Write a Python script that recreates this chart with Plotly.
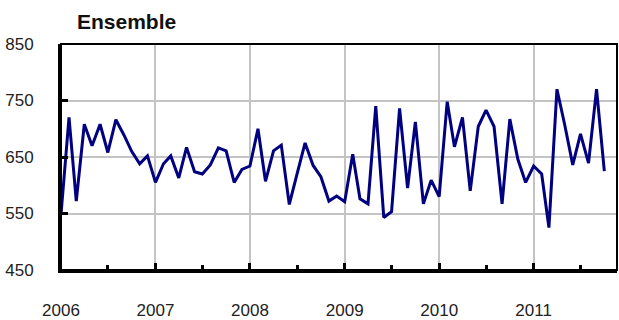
import pandas as pd
import plotly.graph_objects as go

# Monthly values, Jan 2006 - Oct 2011
values = [548, 720, 572, 708, 670, 708, 658, 716, 689, 660, 638, 652,
          605, 638, 652, 613, 667, 624, 620, 636, 666, 661, 605, 628,
          634, 700, 607, 661, 671, 566, 620, 675, 635, 615, 572, 581,
          571, 655, 576, 567, 740, 543, 553, 736, 595, 712, 567, 609,
          580, 748, 668, 720, 590, 704, 733, 704, 567, 717, 646, 605,
          634, 620, 525, 770, 707, 636, 691, 639, 770, 625]
start_month = "2006-01-01"
dates = pd.date_range(start_month, periods=len(values), freq="MS")

title_text = "Ensemble"
y_ticks = [450, 550, 650, 750, 850]
year_ticks = ["2006-01-01", "2007-01-01", "2008-01-01", "2009-01-01", "2010-01-01", "2011-01-01"]
year_labels = ["2006", "2007", "2008", "2009", "2010", "2011"]

FONT = "Liberation Sans, Arial, sans-serif"

fig = go.Figure()
fig.add_trace(go.Scatter(x=dates, y=values, mode="lines",
                         line=dict(color="#000080", width=3),
                         hoverinfo="skip"))

fig.update_layout(
    width=619, height=320,
    margin=dict(l=61, r=2, t=44, b=50),
    paper_bgcolor="white", plot_bgcolor="white",
    showlegend=False,
    font=dict(family=FONT, size=17, color="#222222"),
    title=dict(text=title_text, x=77 / 619, xanchor="left", xref="container",
               y=1 - 22 / 320, yanchor="middle", yref="container",
               font=dict(family=FONT, size=21, color="#111111", weight="bold")),
)

fig.update_xaxes(
    type="date",
    automargin=False,
    range=["2006-01-01", "2011-11-19"],
    tickmode="array", tickvals=year_ticks, ticktext=year_labels,
    ticks="inside", ticklen=7, tickwidth=3, tickcolor="black",
    showgrid=True, gridcolor="#c4c4c4", gridwidth=1.5,
    showline=True, linecolor="black", linewidth=3,
    ticklabelstandoff=23,
    minor=dict(dtick="M6", tick0="2006-01-01", ticks="inside", ticklen=5,
               tickwidth=3, tickcolor="black", showgrid=False),
    zeroline=False,
    tickfont=dict(family=FONT, size=17, color="#222222"),
)

fig.update_yaxes(
    automargin=False,
    range=[450, 850],
    tickmode="array", tickvals=y_ticks,
    ticks="inside", ticklen=7, tickwidth=3, tickcolor="black",
    showgrid=True, gridcolor="#c4c4c4", gridwidth=1.5,
    showline=True, linecolor="black", linewidth=3,
    ticklabelstandoff=21,
    zeroline=False,
    tickfont=dict(family=FONT, size=17, color="#222222"),
)

fig.add_shape(type="rect", xref="paper", yref="paper", x0=0, y0=0, x1=1, y1=1,
              line=dict(color="black", width=2), layer="above")

fig.write_html("out.html", config={"displayModeBar": False},
               post_script="document.body.style.margin='0';")
